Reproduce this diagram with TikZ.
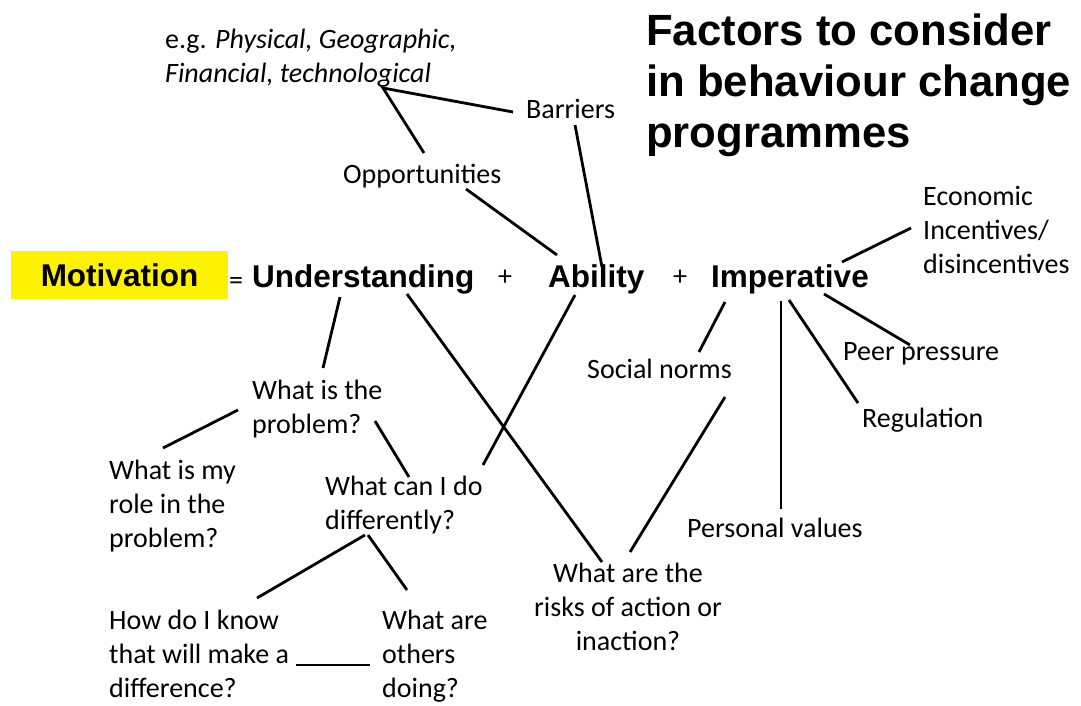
\documentclass[tikz,border=0pt]{standalone}
\usepackage{fontspec}
\setmainfont{Carlito}
\newfontfamily\headfont{Liberation Sans}
\begin{document}
\begin{tikzpicture}[x=1pt,y=-1pt,
  % multi-line labels are placed by the baseline of their last line
  txt/.style={inner sep=0pt, anchor=base west, align=left,
    font=\fontsize{28}{34}\selectfont},
  key/.style={inner sep=0pt, anchor=base west,
    font=\headfont\bfseries\fontsize{31.5}{36}\selectfont},
  op/.style={inner sep=0pt, anchor=base, font=\fontsize{28}{34}\selectfont},
  link/.style={line width=2.8pt}]
\useasboundingbox[fill=white] (0,0) rectangle (1081,705);

% heading
\node[inner sep=0pt, anchor=base west, align=left,
  font=\headfont\bfseries\fontsize{43.7}{51}\selectfont] (title) at (646,147)
  {Factors to consider\\in behaviour change\\programmes};

% the equation
\node[fill=yellow, minimum width=217pt, minimum height=48pt, inner sep=0pt,
  font=\headfont\bfseries\fontsize{31.5}{36}\selectfont] (mot) at (119.5,275) {Motivation};
\node[op] (eq) at (236,289) {=};
\node[key] (und) at (252,287) {Understanding};
\node[op] (plusA) at (505,285) {+};
\node[key] (abl) at (548,287) {Ability};
\node[op] (plusB) at (680,285) {+};
\node[key] (imp) at (711,287) {Imperative};

% branch labels
\node[txt] (eg) at (165,82) {e.g. \textit{Physical, Geographic,}\\\textit{Financial, technological}};
\node[txt] (bar) at (526,118) {Barriers};
\node[txt] (opp) at (343,183) {Opportunities};
\node[txt] (eco) at (923,273) {Economic\\Incentives/\\disincentives};
\node[txt] (peer) at (843,360) {Peer pressure};
\node[txt] (reg) at (862,427) {Regulation};
\node[txt] (soc) at (587,378) {Social norms};
\node[txt] (pers) at (687,537) {Personal values};
\node[txt, align=center, anchor=base] (risk) at (628,650) {What are the\\risks of action or\\inaction?};
\node[txt] (prob) at (252,433) {What is the\\problem?};
\node[txt] (role) at (109,547) {What is my\\role in the\\problem?};
\node[txt] (diff) at (325,529) {What can I do\\differently?};
\node[txt] (know) at (109,697) {How do I know\\that will make a\\difference?};
\node[txt] (others) at (382,697) {What are\\others\\doing?};

% connector end points
\coordinate (egJ) at (383,88);
\coordinate (barW) at (513,112);
\coordinate (oppN) at (424,153);
\coordinate (oppS) at (466,189);
\coordinate (ablNW) at (557,255);
\coordinate (barS) at (575,125);
\coordinate (ablN) at (602,267);
\coordinate (undS) at (340,297);
\coordinate (probN) at (323,368);
\coordinate (undSE) at (407,294);
\coordinate (riskNW) at (602,562);
\coordinate (ablS) at (575,295);
\coordinate (diffNE) at (483,465);
\coordinate (impNE) at (842,262);
\coordinate (ecoW) at (911,228);
\coordinate (impSW) at (725,302);
\coordinate (socN) at (699,352);
\coordinate (impS) at (781,301);
\coordinate (persN) at (781,509);
\coordinate (impSa) at (789,300);
\coordinate (regN) at (858,403);
\coordinate (impSE) at (824,294);
\coordinate (peerN) at (910,345);
\coordinate (socS) at (725,397);
\coordinate (riskN) at (630,552);
\coordinate (probW) at (238,410);
\coordinate (roleN) at (163,448);
\coordinate (probE) at (375,421);
\coordinate (diffN) at (409,477);
\coordinate (diffS) at (365,535);
\coordinate (diffSa) at (368,535);
\coordinate (knowN) at (257,598);
\coordinate (othN) at (407,590);
\coordinate (knowE) at (296,665);
\coordinate (othW) at (370,665);

% connectors
\draw[link] (barW) -- (egJ) -- (oppN);
\draw[link] (oppS) -- (ablNW);
\draw[link] (barS) -- (ablN);
\draw[link] (undS) -- (probN);
\draw[link] (undSE) -- (riskNW);
\draw[link] (ablS) -- (diffNE);
\draw[link] (impNE) -- (ecoW);
\draw[link] (impSW) -- (socN);
\draw[link] (impS) -- (persN);
\draw[link] (impSa) -- (regN);
\draw[link] (impSE) -- (peerN);
\draw[link] (socS) -- (riskN);
\draw[link] (probW) -- (roleN);
\draw[link] (probE) -- (diffN);
\draw[link] (diffS) -- (knowN);
\draw[link] (diffSa) -- (othN);
\draw[link] (knowE) -- (othW);
\end{tikzpicture}
\end{document}
